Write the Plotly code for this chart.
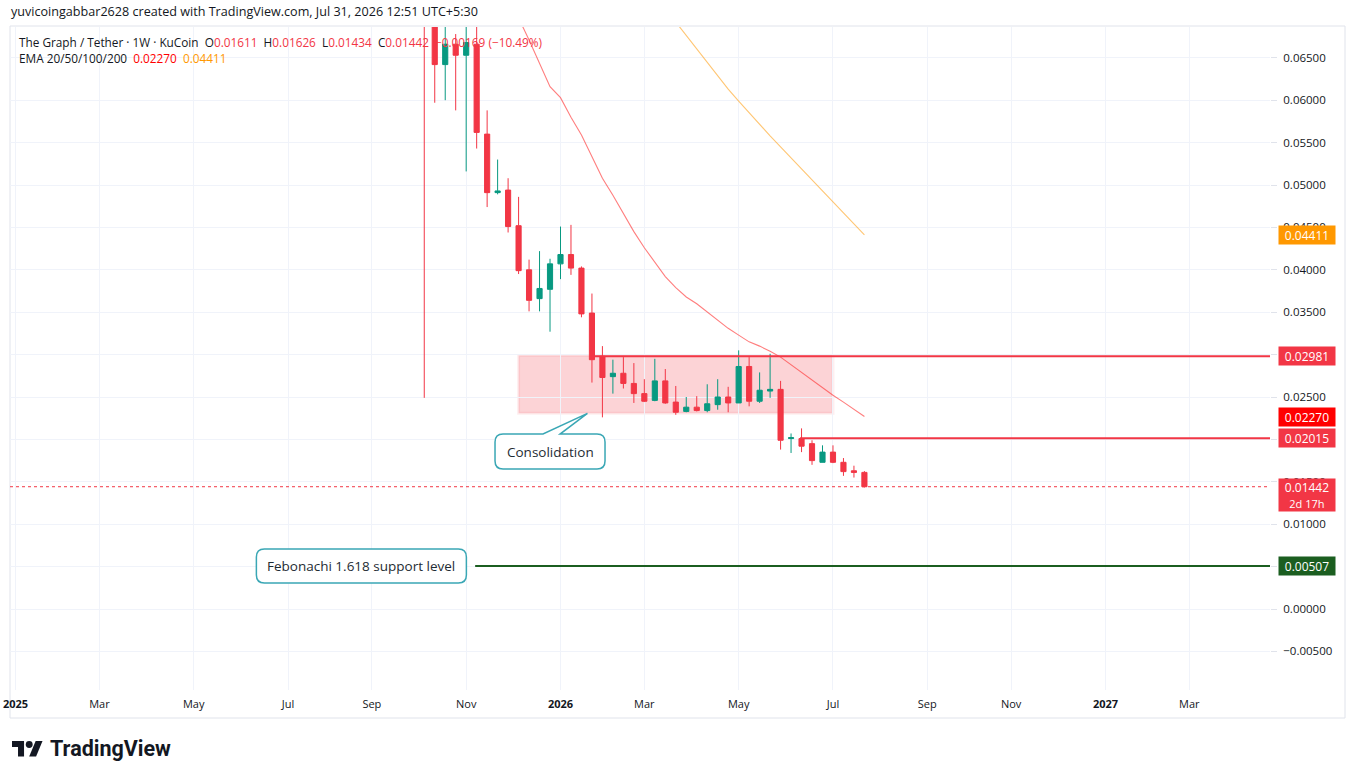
import plotly.graph_objects as go
import pandas as pd

# ---------------- data ----------------
week_dates = [
    "2025-10-06", "2025-10-13", "2025-10-20", "2025-10-27",
    "2025-11-03", "2025-11-10", "2025-11-17", "2025-11-24",
    "2025-12-01", "2025-12-08", "2025-12-15", "2025-12-22", "2025-12-29",
    "2026-01-05", "2026-01-12", "2026-01-19", "2026-01-26",
    "2026-02-02", "2026-02-09", "2026-02-16", "2026-02-23",
    "2026-03-02", "2026-03-09", "2026-03-16", "2026-03-23", "2026-03-30",
    "2026-04-06", "2026-04-13", "2026-04-20", "2026-04-27",
    "2026-05-04", "2026-05-11", "2026-05-18", "2026-05-25",
    "2026-06-01", "2026-06-08", "2026-06-15", "2026-06-22", "2026-06-29",
    "2026-07-06", "2026-07-13", "2026-07-20", "2026-07-27",
]
opens = [0.0820, 0.0705, 0.0642, 0.0666, 0.0653, 0.0666, 0.0560, 0.0491,
         0.0494, 0.0452, 0.0400, 0.0366, 0.0377,
         0.0407, 0.0418, 0.0402, 0.0349,
         0.0298, 0.0274, 0.0278, 0.0266,
         0.0254, 0.0246, 0.0269, 0.0244, 0.0233,
         0.0238, 0.0234, 0.0241, 0.0250,
         0.0243, 0.0286, 0.0245, 0.0257,
         0.0259, 0.0201, 0.0201, 0.0195, 0.0173,
         0.0185, 0.0173, 0.0163, 0.01611]
highs = [0.0880, 0.0760, 0.0700, 0.0678, 0.0695, 0.0700, 0.0588, 0.0530,
         0.0508, 0.0486, 0.0412, 0.0422, 0.0413,
         0.0451, 0.0453, 0.0404, 0.0372,
         0.0310, 0.0294, 0.0297, 0.0290,
         0.0271, 0.0295, 0.0283, 0.0263, 0.0250,
         0.0251, 0.0265, 0.0271, 0.0262,
         0.0305, 0.0297, 0.0279, 0.0301,
         0.0269, 0.0207, 0.0213, 0.0199, 0.0193,
         0.0193, 0.0178, 0.0169, 0.01626]
lows = [0.0249, 0.0597, 0.0600, 0.0588, 0.0516, 0.0543, 0.0474, 0.0489,
        0.0444, 0.0395, 0.0351, 0.0351, 0.0327,
        0.0389, 0.0394, 0.0344, 0.0267,
        0.0226, 0.0254, 0.0260, 0.0243,
        0.0244, 0.0245, 0.0242, 0.0229, 0.0232,
        0.0233, 0.0232, 0.0235, 0.0232,
        0.0243, 0.0239, 0.0243, 0.0249,
        0.0188, 0.0184, 0.0185, 0.0170, 0.0173,
        0.0172, 0.0157, 0.0155, 0.01434]
closes = [0.0705, 0.0642, 0.0666, 0.0653, 0.0668, 0.0562, 0.0491, 0.0493,
          0.0451, 0.0399, 0.0364, 0.0378, 0.0407,
          0.0418, 0.0402, 0.0348, 0.0294,
          0.0273, 0.0278, 0.0266, 0.0254,
          0.0245, 0.0269, 0.0243, 0.0232, 0.0238,
          0.0234, 0.0242, 0.0250, 0.0243,
          0.0286, 0.0245, 0.0258, 0.0259,
          0.0199, 0.0202, 0.0192, 0.0175, 0.0185,
          0.0173, 0.0162, 0.01611, 0.01442]

ema20_dates = week_dates[8:]
ema20_vals = [0.0712, 0.0697, 0.0671, 0.0643, 0.0616,
              0.0603, 0.0580, 0.0559, 0.0534,
              0.0508, 0.0488, 0.0467, 0.0445,
              0.0426, 0.0409, 0.0392, 0.0379, 0.0368,
              0.0360, 0.0350, 0.0341, 0.0331,
              0.0323, 0.0315, 0.0310, 0.0304,
              0.0297, 0.0288, 0.0279, 0.0269, 0.0261,
              0.0252, 0.0244, 0.0235, 0.02270]
ema50_dates = week_dates[23:]
ema50_vals = [0.0708, 0.0692, 0.0676,
              0.0660, 0.0644, 0.0629, 0.0613,
              0.0599, 0.0585, 0.0572, 0.0558,
              0.0545, 0.0532, 0.0519, 0.0506, 0.0493,
              0.0480, 0.0467, 0.0454, 0.04411]

tick_dates = ["2025-01-06", "2025-03-03", "2025-05-05", "2025-07-07", "2025-09-01",
              "2025-11-03", "2026-01-05", "2026-03-02", "2026-05-04", "2026-07-06",
              "2026-09-07", "2026-11-02", "2027-01-04", "2027-03-01"]
tick_labels = ["<b>2025</b>", "Mar", "May", "Jul", "Sep", "Nov", "<b>2026</b>",
               "Mar", "May", "Jul", "Sep", "Nov", "<b>2027</b>", "Mar"]

price_ticks = [-0.005, 0.0, 0.005, 0.010, 0.015, 0.020, 0.025, 0.030,
               0.035, 0.040, 0.045, 0.050, 0.055, 0.060, 0.065]
# labels hidden behind the price-scale boxes in the reference are left blank
price_tick_text = ["−0.00500", "0.00000", "", "0.01000", "0.01500", "", "0.02500", "",
                   "0.03500", "0.04000", "0.04500", "0.05000", "0.05500", "0.06000", "0.06500"]

resistance_level = 0.02981
resistance_start = "2026-01-28"
support_level = 0.02015
support_start = "2026-06-14"
fib_level = 0.00507
fib_start = "2025-11-09"
consol_x = ["2025-12-08", "2026-07-06"]
consol_y = [0.02307, 0.02990]

# ---------------- helpers ----------------
REF = pd.Timestamp("2026-01-05")


def day(d):
    return (pd.Timestamp(d) - REF).days


W, H = 1355, 779
ML, MR, MT, MB = 10, 85, 27, 89
PW, PH = W - ML - MR, H - MT - MB
XR = [-367.7, 473.9]
YR = [-0.009552, 0.068632]
KX = (XR[1] - XR[0]) / PW   # days per pixel
KY = (YR[1] - YR[0]) / PH   # price per pixel


def px(x):
    return (x - ML) / PW


def py(y):
    return (MT + PH - y) / PH


UP, DN = "#089981", "#F23645"
TXT = "#131722"
FONT = "Open Sans"

xs = [day(d) for d in week_dates]

fig = go.Figure()
fig.add_trace(go.Candlestick(
    x=xs, open=opens, high=highs, low=lows, close=closes,
    increasing=dict(line=dict(color=UP, width=1), fillcolor=UP),
    decreasing=dict(line=dict(color=DN, width=1), fillcolor=DN),
    whiskerwidth=0, hoverinfo="skip", showlegend=False,
))
fig.add_trace(go.Scatter(
    x=[day(d) for d in ema20_dates], y=ema20_vals, mode="lines",
    line=dict(color="rgba(255,40,40,0.6)", width=1.1),
    hoverinfo="skip", showlegend=False))
fig.add_trace(go.Scatter(
    x=[day(d) for d in ema50_dates], y=ema50_vals, mode="lines",
    line=dict(color="rgba(255,152,0,0.55)", width=1.1),
    hoverinfo="skip", showlegend=False))

shapes = []
# consolidation zone
shapes.append(dict(type="rect", xref="x", yref="y", layer="below",
                   x0=day(consol_x[0]), x1=day(consol_x[1]),
                   y0=consol_y[0], y1=consol_y[1],
                   fillcolor="rgba(242,54,69,0.22)",
                   line=dict(color="rgba(242,54,69,0.08)", width=3)))
# level lines
shapes.append(dict(type="line", xref="x", yref="y", x0=day(resistance_start), x1=XR[1],
                   y0=resistance_level, y1=resistance_level, line=dict(color=DN, width=2)))
shapes.append(dict(type="line", xref="x", yref="y", x0=day(support_start), x1=XR[1],
                   y0=support_level, y1=support_level, line=dict(color=DN, width=2)))
shapes.append(dict(type="line", xref="x", yref="y", x0=day(fib_start), x1=XR[1],
                   y0=fib_level, y1=fib_level, line=dict(color="#1B5E20", width=2)))
shapes.append(dict(type="line", xref="x", yref="y", x0=XR[0], x1=XR[1],
                   y0=closes[-1], y1=closes[-1], line=dict(color=DN, width=1, dash="dot")))


def callout(cx, cy, w, h, r, tail=None):
    left, right = cx - w / 2 * KX, cx + w / 2 * KX
    top, bot = cy + h / 2 * KY, cy - h / 2 * KY
    rx, ry = r * KX, r * KY
    p = f"M {left + rx},{top} "
    if tail:
        b1, b2, tx, ty = tail
        p += f"L {cx + b1 * KX},{top} L {tx},{ty} L {cx + b2 * KX},{top} "
    p += (f"L {right - rx},{top} Q {right},{top} {right},{top - ry} "
          f"L {right},{bot + ry} Q {right},{bot} {right - rx},{bot} "
          f"L {left + rx},{bot} Q {left},{bot} {left},{bot + ry} "
          f"L {left},{top - ry} Q {left},{top} {left + rx},{top} Z")
    return dict(type="path", xref="x", yref="y", path=p, fillcolor="white",
                line=dict(color="#3AA7B5", width=1.5), layer="above")


c1x, c1y = day("2025-12-29"), 0.01857
shapes.append(callout(c1x, c1y, 110, 35, 8,
                      tail=(-7, 10, day("2026-01-23"), consol_y[0])))
c2x, c2y = day("2025-08-25"), fib_level
shapes.append(callout(c2x, c2y, 210, 34, 8))

# outer pane border
shapes.append(dict(type="rect", xref="paper", yref="paper", x0=px(10), x1=px(1345),
                   y0=py(718), y1=py(26), line=dict(color="#E0E3EB", width=1),
                   fillcolor="rgba(0,0,0,0)", layer="below"))

# TradingView logo glyph
s, ox, oy = 0.86, 12, 737.6


def lp(a, b):
    return f"{px(ox + a * s)},{py(oy + b * s)}"


logo1 = [(14, 22), (7, 22), (7, 11), (0, 11), (0, 4), (14, 4)]
logo2 = [(28, 22), (20, 22), (27.5, 4), (35.5, 4)]
for pts in (logo1, logo2):
    path = "M " + " L ".join(lp(a, b) for a, b in pts) + " Z"
    shapes.append(dict(type="path", xref="paper", yref="paper", path=path,
                       fillcolor=TXT, line=dict(width=0)))
shapes.append(dict(type="circle", xref="paper", yref="paper",
                   x0=px(ox + 16 * s), x1=px(ox + 24 * s),
                   y0=py(oy + 12 * s), y1=py(oy + 4 * s),
                   fillcolor=TXT, line=dict(width=0)))

ann = []
NB = "\u00a0"


def red(t, c=DN):
    return f"<span style='color:{c}'>{t}</span>"


chg = closes[-1] - closes[-2]
pct = chg / closes[-2] * 100
line2 = (f"The Graph / Tether · 1W · KuCoin{NB}{NB}O{red(f'{opens[-1]:.5f}')}{NB}{NB}"
         f"H{red(f'{highs[-1]:.5f}')}{NB}{NB}L{red(f'{lows[-1]:.5f}')}{NB}{NB}"
         f"C{red(f'{closes[-1]:.5f}')}{NB}{NB}"
         + red(f"{chg:+.5f} ({pct:+.2f}%)".replace("-", "−")))
line3 = (f"EMA 20/50/100/200{NB}{NB}{red(f'{ema20_vals[-1]:.5f}', '#FF0000')}{NB}{NB}"
         f"{red(f'{ema50_vals[-1]:.5f}', '#FF9800')}")
ann.append(dict(xref="paper", yref="paper", x=px(9), y=py(11), xanchor="left", yanchor="middle",
                text="yuvicoingabbar2628 created with TradingView.com, Jul 31, 2026 12:51 UTC+5:30",
                showarrow=False, font=dict(family=FONT, size=12.6, color=TXT)))
ann.append(dict(xref="paper", yref="paper", x=px(17), y=py(42), xanchor="left", yanchor="middle",
                text=line2, showarrow=False, font=dict(family=FONT, size=11.8, color=TXT)))
ann.append(dict(xref="paper", yref="paper", x=px(17), y=py(58), xanchor="left", yanchor="middle",
                text=line3, showarrow=False, font=dict(family=FONT, size=11.8, color=TXT)))

# callout texts
ann.append(dict(xref="x", yref="y", x=c1x, y=c1y, text="Consolidation", showarrow=False,
                font=dict(family=FONT, size=13.5, color="#1E2B33")))
ann.append(dict(xref="x", yref="y", x=c2x, y=c2y, text="Febonachi 1.618 support level",
                showarrow=False, font=dict(family=FONT, size=13.5, color="#1E2B33")))

# price axis labels
for val, col in [(ema50_vals[-1], "#FF9800"), (resistance_level, DN),
                 (ema20_vals[-1], "#FF0000"), (support_level, DN), (fib_level, "#1B5E20")]:
    ann.append(dict(xref="paper", yref="y", x=px(1278), y=val, xanchor="left", yanchor="middle",
                    text=f"{val:.5f}", showarrow=False, bgcolor=col, width=52, height=14,
                    borderpad=2, font=dict(family=FONT, size=12, color="white")))
ann.append(dict(xref="paper", yref="y", x=px(1278), y=closes[-1], xanchor="left", yanchor="top",
                yshift=9, text=f"{closes[-1]:.5f}<br><span style='font-size:11px'>2d 17h</span>",
                showarrow=False, bgcolor=DN, width=52, height=28, borderpad=2,
                font=dict(family=FONT, size=12, color="white")))

# TradingView wordmark
ann.append(dict(xref="paper", yref="paper", x=px(48), y=py(749), xanchor="left", yanchor="middle",
                text="<b>TradingView</b>", showarrow=False,
                font=dict(family="Roboto", size=21.5, color=TXT)))

fig.update_layout(
    width=W, height=H, margin=dict(l=ML, r=MR, t=MT, b=MB, autoexpand=False),
    paper_bgcolor="white", plot_bgcolor="white",
    shapes=shapes, annotations=ann, showlegend=False,
    xaxis=dict(range=XR, rangeslider=dict(visible=False), tickvals=[day(d) for d in tick_dates],
               ticktext=tick_labels, showgrid=True, gridcolor="#F0F3FA", zeroline=False,
               showline=False, ticks="", automargin=False, ticklabelstandoff=6,
               tickfont=dict(family=FONT, size=11, color=TXT)),
    yaxis=dict(range=YR, side="right", tickvals=price_ticks, ticktext=price_tick_text,
               showgrid=True, gridcolor="#F0F3FA", zeroline=False, showline=False,
               ticks="outside", ticklen=6, tickcolor="#E0E3EB", ticklabelstandoff=4,
               automargin=False, tickfont=dict(family=FONT, size=11.5, color=TXT)),
)

fig.write_html("out.html")
